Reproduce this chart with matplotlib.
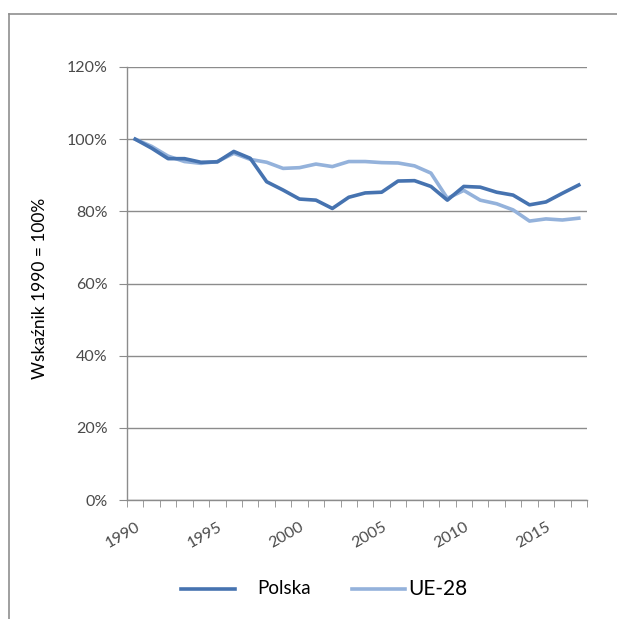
import matplotlib
matplotlib.use("Agg")
import matplotlib.pyplot as plt
from matplotlib.lines import Line2D
from matplotlib.ticker import FuncFormatter

years = list(range(1990, 2018))
polska = [100.0, 97.5, 94.6, 94.6, 93.6, 93.7, 96.6, 94.7, 88.2, 85.9, 83.4, 83.1,
          80.8, 83.9, 85.1, 85.3, 88.4, 88.5, 86.9, 83.1, 86.9, 86.7, 85.3, 84.5,
          81.8, 82.6, 85.0, 87.3]
ue28 = [100.0, 98.0, 95.3, 93.8, 93.3, 93.8, 96.1, 94.4, 93.6, 91.9, 92.1, 93.1,
        92.4, 93.8, 93.8, 93.5, 93.4, 92.6, 90.6, 83.6, 85.8, 83.1, 82.1, 80.4,
        77.3, 77.9, 77.6, 78.1]
label_years = [1990, 1995, 2000, 2005, 2010, 2015]
y_ticks = [0, 20, 40, 60, 80, 100, 120]

col_pl = "#4673B0"
col_ue = "#94B2DB"
grid_col = "#8C8C8C"
text_col = "#4A4A4A"
font = ["Lato", "DejaVu Sans"]

W, H = 617, 619
fig = plt.figure(figsize=(W / 100, H / 100), dpi=100)
fig.patch.set_facecolor("white")

# outer chart frame (top and left edges)
fig.add_artist(Line2D([9 / W, 1.0], [1 - 14 / H, 1 - 14 / H], color="#8F8F8F", lw=1.2))
fig.add_artist(Line2D([9 / W, 9 / W], [0.0, 1 - 14 / H], color="#8F8F8F", lw=1.2))

ax = fig.add_axes([127 / W, 1 - 500 / H, (587 - 127) / W, (500 - 67) / H])
x = list(range(len(years)))
ax.plot(x, ue28, color=col_ue, lw=2.6, solid_joinstyle="round", zorder=3)
ax.plot(x, polska, color=col_pl, lw=2.6, solid_joinstyle="round", zorder=4)

ax.set_xlim(-0.5, len(years) - 0.5)
ax.set_ylim(0, 120)
ax.set_yticks(y_ticks)
ax.yaxis.set_major_formatter(FuncFormatter(lambda v, p: f"{int(v)}%"))
ax.grid(axis="y", color=grid_col, lw=1.0)
ax.set_axisbelow(True)

# category boundary ticks on x
ax.set_xticks([i - 0.5 for i in range(len(years) + 1)], minor=True)
ax.set_xticks([years.index(y) for y in label_years])
ax.set_xticklabels([str(y) for y in label_years], rotation=30, ha="right",
                   rotation_mode="anchor", family=font, fontsize=11.5, color=text_col)
ax.tick_params(axis="x", which="major", length=0, pad=14)
ax.tick_params(axis="x", which="minor", length=5, color=grid_col, direction="out")
ax.tick_params(axis="y", length=6, color=grid_col, labelsize=11.5, labelcolor=text_col, pad=8)
for t in ax.get_yticklabels():
    t.set_family(font)

for s in ["top", "right"]:
    ax.spines[s].set_visible(False)
for s in ["left", "bottom"]:
    ax.spines[s].set_color(grid_col)
    ax.spines[s].set_linewidth(1.0)

fig.text(40 / W, 1 - 288 / H, "Wskaźnik 1990 = 100%", rotation=90, ha="center",
         va="center", family=font, fontsize=12.5, color="#000000")

# legend
ly = 1 - 589 / H
fig.add_artist(Line2D([181 / W, 235 / W], [ly, ly], color=col_pl, lw=2.6))
fig.text(257 / W, ly, "Polska", ha="left", va="center", family=font, fontsize=13.5, color="#000000")
fig.add_artist(Line2D([352 / W, 405 / W], [ly, ly], color=col_ue, lw=2.6))
fig.text(408 / W, ly, "UE-28", ha="left", va="center", family=font, fontsize=15, color="#000000")

fig.savefig("out.png", dpi=100, facecolor="white")
